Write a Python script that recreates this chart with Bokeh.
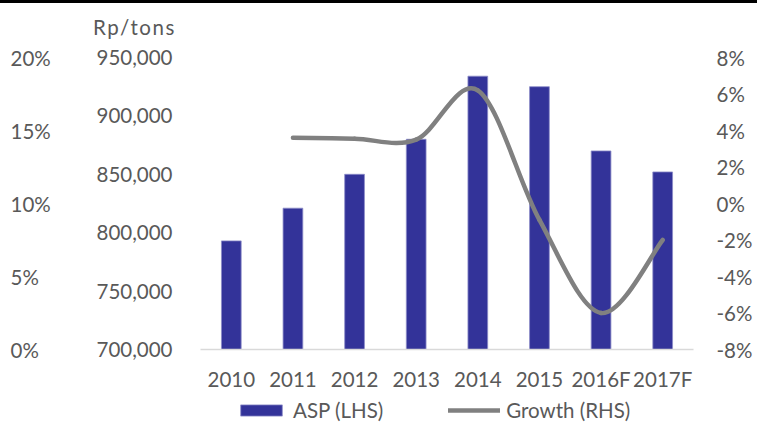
from bokeh.plotting import figure
from bokeh.layouts import column, row
from bokeh.models import (Range1d, FactorRange, LinearAxis, FixedTicker, NumeralTickFormatter,
                          PrintfTickFormatter, Legend, LegendItem, ColumnDataSource, Div)
from bokeh.embed import file_html
from bokeh.resources import INLINE

# ---------------- data ----------------
years = ["2010", "2011", "2012", "2013", "2014", "2015", "2016F", "2017F"]
asp = [793000, 821000, 850000, 880000, 934000, 925000, 870000, 852000]

growth_years = ["2011", "2012", "2013", "2014", "2015", "2016F", "2017F"]
growth = [3.6, 3.55, 3.5, 6.2, -0.9, -6.0, -2.0]

asp_ticks = [700000, 750000, 800000, 850000, 900000, 950000]
pct_left_ticks = [0, 5, 10, 15, 20]
growth_ticks = [-8, -6, -4, -2, 0, 2, 4, 6, 8]

unit_label = "Rp/tons"
legend_labels = ["ASP (LHS)", "Growth (RHS)"]

# ---------------- style ----------------
FONT = "Lato"
FS = "20.5px"
TXT = "#595959"
BAR = "#333399"
BAR_EDGE = "#8c8cc8"
LINE = "#808080"
W = 757
LEFT, RIGHT = 200, 64
PCT_W = 60
TOP, BOTTOM = 16, 42
H_MAIN = 352

# header: black rule + unit label
header = Div(text=('<div style="width:%dpx;height:3px;background:#000000"></div>'
                   '<div style="margin:12px 0 0 93px;font-family:Lato;font-size:20.5px;'
                   'letter-spacing:1.5px;line-height:24px;color:%s;white-space:nowrap">%s</div>')
                  % (W, TXT, unit_label),
             width=W, height=41, margin=0)


def style_axis(ax, standoff):
    ax.axis_line_color = None
    ax.major_tick_line_color = None
    ax.minor_tick_line_color = None
    ax.major_tick_out = 0
    ax.major_tick_in = 0
    ax.minor_tick_out = 0
    ax.minor_tick_in = 0
    ax.major_label_standoff = standoff
    ax.major_label_text_font = FONT
    ax.major_label_text_font_size = FS
    ax.major_label_text_color = TXT


# far-left percent scale (labels left-aligned, as in the reference)
p_pct = figure(x_range=Range1d(0, 1), y_range=Range1d(pct_left_ticks[0], pct_left_ticks[-1]),
               width=PCT_W, height=H_MAIN, output_backend="svg", toolbar_location=None,
               min_border_left=0, min_border_right=PCT_W - 1, min_border_top=TOP,
               min_border_bottom=BOTTOM, outline_line_color=None,
               x_axis_type=None, y_axis_type=None)
p_pct.grid.visible = False
ax_pl = LinearAxis(ticker=FixedTicker(ticks=pct_left_ticks),
                   formatter=PrintfTickFormatter(format="%d%%"))
style_axis(ax_pl, 9)
p_pct.add_layout(ax_pl, "right")

p = figure(x_range=FactorRange(factors=years),
           y_range=Range1d(asp_ticks[0], asp_ticks[-1]),
           width=W - PCT_W, height=H_MAIN, output_backend="svg", toolbar_location=None,
           min_border_left=LEFT - PCT_W, min_border_right=RIGHT, min_border_top=TOP,
           min_border_bottom=BOTTOM, outline_line_color=None)
p.extra_y_ranges = {"growth": Range1d(growth_ticks[0], growth_ticks[-1])}
p.xgrid.visible = False
p.ygrid.visible = False

# left axis (ASP)
ya = p.yaxis[0]
ya.ticker = FixedTicker(ticks=asp_ticks)
ya.formatter = NumeralTickFormatter(format="0,0")
style_axis(ya, 28)

# right axis (growth)
ax_r = LinearAxis(y_range_name="growth", ticker=FixedTicker(ticks=growth_ticks),
                  formatter=PrintfTickFormatter(format="%d%%"))
style_axis(ax_r, 23)
p.add_layout(ax_r, "right")

# x axis
xa = p.xaxis[0]
style_axis(xa, 17)
xa.axis_line_color = "#d9d9d9"
xa.axis_line_width = 1.5

# bars
src = ColumnDataSource(dict(x=years, top=asp))
p.vbar(x="x", top="top", bottom=asp_ticks[0], width=0.32, source=src,
       fill_color=BAR, line_color=BAR_EDGE, line_width=0.8)

# smoothed growth line (Catmull-Rom -> cubic Bezier, like Excel's smoothed line)
gx = [years.index(y) + 0.5 for y in growth_years]
pts = list(zip(gx, growth))
n = len(pts)
seg = dict(x0=[], y0=[], x1=[], y1=[], cx0=[], cy0=[], cx1=[], cy1=[])
for i in range(n - 1):
    pp = pts[max(i - 1, 0)]
    a = pts[i]
    b = pts[i + 1]
    nn = pts[min(i + 2, n - 1)]
    seg["x0"].append(a[0]); seg["y0"].append(a[1])
    seg["x1"].append(b[0]); seg["y1"].append(b[1])
    seg["cx0"].append(a[0] + (b[0] - pp[0]) / 6); seg["cy0"].append(a[1] + (b[1] - pp[1]) / 6)
    seg["cx1"].append(b[0] - (nn[0] - a[0]) / 6); seg["cy1"].append(b[1] - (nn[1] - a[1]) / 6)
p.bezier(x0="x0", y0="y0", x1="x1", y1="y1", cx0="cx0", cy0="cy0", cx1="cx1", cy1="cy1",
         source=ColumnDataSource(seg), y_range_name="growth",
         line_color=LINE, line_width=4.5, line_cap="round")

# ---------------- legend strip (same data, drawn out of view; only the legend shows) ----------------
p_leg = figure(x_range=FactorRange(factors=years), y_range=Range1d(1e7, 1e7 + 1),
               width=W, height=31, output_backend="svg", toolbar_location=None,
               min_border_left=LEFT, min_border_right=RIGHT, min_border_top=0, min_border_bottom=0,
               outline_line_color=None, x_axis_type=None, y_axis_type=None)
p_leg.grid.visible = False
lb = p_leg.vbar(x="x", top="top", bottom=asp_ticks[0], width=0.32, source=src,
                fill_color=BAR, line_color=BAR_EDGE, line_width=0.8)
ll = p_leg.line(x=gx, y=growth, line_color=LINE, line_width=4.5, line_cap="round")
legend = Legend(items=[LegendItem(label=legend_labels[0], renderers=[lb]),
                       LegendItem(label=legend_labels[1], renderers=[ll])],
                orientation="horizontal", location=(35, 2),
                glyph_width=52, glyph_height=14, label_standoff=6, spacing=65,
                padding=0, margin=0, border_line_alpha=0, background_fill_alpha=0,
                label_text_font=FONT, label_text_font_size=FS, label_text_color=TXT)
p_leg.add_layout(legend, "center")

layout = column(header, row(p_pct, p, spacing=0), p_leg, spacing=0)
open("out.html", "w").write(file_html(layout, INLINE))
